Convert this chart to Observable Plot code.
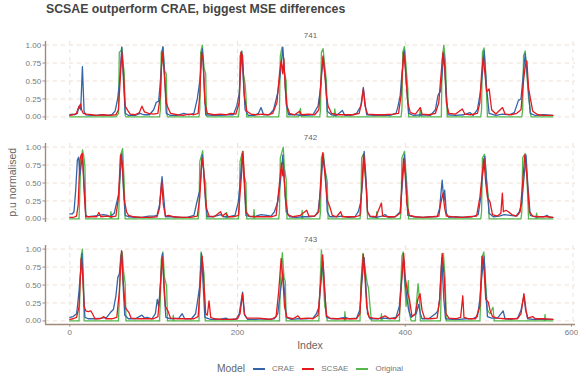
<!DOCTYPE html>
<html>
<head>
<meta charset="utf-8">
<script src="https://cdn.jsdelivr.net/npm/d3@7"></script>
<script src="https://cdn.jsdelivr.net/npm/@observablehq/plot@0.6"></script>
<style>
  html, body { margin: 0; padding: 0; background: #fff; }
  body { width: 578px; height: 384px; position: relative; overflow: hidden; font-family: "Liberation Sans", Arial, sans-serif; }
  .abs { position: absolute; line-height: 1; white-space: nowrap; }
  #title { left: 46px; top: 2.6px; font-size: 12.3px; font-weight: bold; color: #444; }
  #xlab { left: 210px; width: 200px; text-align: center; top: 340.4px; font-size: 10.5px; color: #666; }
  #ylab { left: -88px; width: 200px; text-align: center; top: 176.75px; height: 10.5px; font-size: 10.5px; color: #666; transform: rotate(-90deg); }
  #legend { left: 217px; top: 362px; height: 14px; display: flex; align-items: center; }
  #legend .ttl { font-size: 10.3px; color: #666666; margin-right: 8px; }
  #legend .sw { width: 12px; height: 1.6px; margin-right: 7px; }
  #legend .lab { font-size: 8px; color: #777; margin-right: 8px; }
  #chart { position: absolute; left: 0; top: 0; }
</style>
</head>
<body>
<div id="chart"></div>
<div id="title" class="abs">SCSAE outperform CRAE, biggest MSE differences</div>
<div id="xlab" class="abs">Index</div>
<div id="ylab" class="abs">p.u normalised</div>
<div id="legend" class="abs"></div>
<script>
const facets = ["741", "742", "743"];
const models = ["CRAE", "SCSAE", "Original"];
const colors = ["#3465a8", "#e41a1c", "#55b84f"];
const yTicks = [0, 0.25, 0.5, 0.75, 1];
const xTicks = [0, 200, 400, 600];

// ---- 741 ----
const f741_CRAE = [[0,0.03],[3,0.04],[6,0.03],[9,0.05],[11,0.15],[13,0.1],[15,0.70],[17,0.08],[19,0.03],[25,0.02],[32,0.02],[38,0.03],[45,0.02],[50,0.03],[54,0.08],[57,0.25],[59,0.45],[62,0.97],[64,0.5],[66,0.05],[70,0.02],[78,0.02],[84,0.05],[88,0.03],[95,0.03],[100,0.1],[103,0.2],[106,0.22],[108,0.5],[111,0.98],[113,0.6],[115,0.05],[120,0.02],[128,0.02],[136,0.05],[142,0.03],[148,0.05],[152,0.25],[155,0.5],[158,0.95],[160,0.5],[162,0.03],[170,0.02],[180,0.02],[188,0.03],[195,0.03],[199,0.15],[202,0.32],[205,0.91],[207,0.5],[209,0.1],[213,0.02],[220,0.02],[225,0.05],[228,0.13],[231,0.03],[238,0.03],[243,0.1],[248,0.34],[251,0.6],[254,0.97],[256,0.6],[258,0.18],[261,0.03],[270,0.03],[275,0.02],[282,0.02],[290,0.03],[296,0.15],[299,0.4],[302,0.83],[305,0.5],[307,0.08],[312,0.03],[318,0.02],[325,0.09],[328,0.02],[335,0.02],[342,0.05],[347,0.15],[350,0.41],[352,0.2],[354,0.03],[362,0.02],[372,0.02],[382,0.02],[389,0.05],[391,0.13],[394,0.3],[396,0.6],[399,0.92],[401,0.5],[404,0.05],[410,0.02],[420,0.03],[430,0.02],[436,0.1],[439,0.3],[442,0.36],[444,0.6],[446,0.88],[449,0.3],[451,0.03],[460,0.02],[470,0.03],[477,0.06],[481,0.02],[486,0.1],[489,0.3],[492,0.6],[494,0.92],[497,0.4],[500,0.05],[508,0.02],[516,0.04],[524,0.03],[530,0.06],[535,0.23],[538,0.25],[540,0.5],[543,0.88],[546,0.5],[549,0.05],[555,0.02],[565,0.03],[576,0.02]];
const f741_SCSAE = [[0,0.02],[4,0.03],[8,0.05],[10,0.12],[12.8,0.18],[14,0.1],[16,0.05],[20,0.04],[26,0.03],[32,0.02],[40,0.03],[48,0.02],[55,0.03],[58,0.1],[60,0.5],[62,0.9],[64,0.6],[66,0.15],[69,0.09],[72,0.04],[78,0.03],[83,0.06],[86,0.15],[89,0.07],[94,0.05],[100,0.04],[105,0.05],[108,0.3],[110,0.9],[112,0.7],[115,0.2],[117,0.13],[120,0.05],[128,0.03],[135,0.02],[142,0.04],[148,0.03],[153,0.05],[155,0.3],[157,0.9],[159,0.8],[161,0.2],[164,0.05],[172,0.03],[180,0.04],[186,0.03],[192,0.05],[198,0.04],[202,0.2],[204,0.9],[206,0.85],[208,0.3],[211,0.08],[216,0.04],[222,0.03],[230,0.04],[236,0.03],[242,0.05],[247,0.2],[250,0.6],[252,0.78],[254,0.6],[255,0.82],[257,0.4],[259,0.15],[262,0.05],[268,0.03],[274,0.08],[276,0.03],[285,0.04],[292,0.03],[297,0.1],[300,0.6],[302,0.85],[304,0.6],[306,0.3],[308,0.15],[312,0.05],[320,0.03],[330,0.03],[338,0.03],[345,0.05],[348,0.2],[350,0.39],[352,0.15],[355,0.04],[365,0.03],[375,0.03],[385,0.04],[392,0.05],[395,0.3],[398,0.9],[400,0.7],[403,0.2],[406,0.06],[412,0.04],[418,0.13],[420,0.04],[428,0.03],[436,0.05],[440,0.2],[442,0.5],[445,0.9],[447,0.7],[449,0.2],[452,0.05],[460,0.04],[468,0.11],[471,0.04],[478,0.03],[486,0.05],[489,0.2],[491,0.6],[493,0.83],[495,0.6],[497,0.35],[500,0.39],[503,0.1],[508,0.04],[516,0.13],[519,0.04],[526,0.03],[533,0.05],[538,0.1],[541,0.5],[543,0.7],[545,0.78],[547,0.4],[549,0.27],[552,0.08],[558,0.03],[566,0.02],[576,0.02]];
const f741_Original = [[0,0],[55,0],[58,0.05],[59,0.9],[61,0.92],[62,0.97],[63,0.85],[64,0.7],[65,0.6],[66,0.02],[67,0],[107,0],[108,0.1],[109,0.9],[111,0.97],[113,0.64],[115,0.6],[116,0.02],[117,0],[154,0],[155,0.1],[156,0.9],[158,1.0],[160,0.69],[162,0.6],[163,0.02],[164,0],[201,0],[202,0.1],[203,0.85],[205,0.92],[207,0.6],[209,0.46],[210,0.3],[211,0],[249,0],[250,0.1],[251,0.85],[253,0.97],[255,0.8],[256,0.62],[258,0.5],[259,0],[273,0],[275,0.12],[276,0],[298,0],[299,0.1],[300,0.9],[302,0.95],[304,0.71],[306,0.5],[307,0],[315,0],[316,0.11],[317,0],[395,0],[396,0.1],[397,0.9],[399,0.98],[401,0.7],[403,0.4],[404,0],[417,0],[418,0.13],[419,0],[443,0],[444,0.8],[446,1.0],[448,0.75],[450,0],[490,0],[491,0.1],[492,0.9],[494,0.96],[496,0.6],[497,0.3],[498,0],[539,0],[540,0.1],[541,0.85],[543,0.92],[545,0.6],[547,0.27],[549,0.11],[550,0],[576,0]];

// ---- 742 ----
const f742_CRAE = [[0,0.07],[3,0.07],[5,0.1],[7,0.4],[9,0.82],[10.5,0.86],[12,0.61],[13.5,0.75],[15,0.89],[17,0.5],[19,0.05],[22,0.03],[28,0.04],[35,0.05],[40,0.06],[45,0.05],[48,0.03],[53,0.08],[55.7,0.22],[58,0.33],[60,0.6],[62,0.91],[64,0.4],[66,0.05],[70,0.03],[78,0.02],[86,0.02],[94,0.04],[100,0.04],[104,0.05],[107,0.2],[110,0.59],[112,0.3],[114,0.03],[120,0.03],[130,0.02],[140,0.02],[148,0.05],[152,0.26],[155,0.4],[158,0.89],[160,0.6],[162,0.2],[164,0.03],[170,0.03],[177,0.05],[180,0.06],[183,0.03],[190,0.03],[197,0.05],[201,0.24],[203,0.5],[205.7,0.91],[208,0.5],[210,0.05],[216,0.03],[222,0.04],[228,0.06],[235,0.05],[240,0.04],[244,0.1],[248,0.24],[251,0.5],[254,0.89],[256,0.5],[258,0.1],[262,0.03],[270,0.02],[278,0.03],[285,0.03],[292,0.04],[296,0.1],[299,0.4],[302,0.89],[305,0.6],[307,0.1],[310,0.03],[318,0.03],[325,0.04],[332,0.02],[340,0.03],[344,0.1],[347,0.24],[349,0.5],[351,0.94],[353,0.6],[355,0.1],[358,0.03],[365,0.02],[372,0.04],[376,0.06],[380,0.02],[388,0.03],[394,0.1],[396,0.4],[399,0.89],[401,0.5],[403,0.05],[410,0.03],[420,0.02],[430,0.03],[438,0.03],[441,0.15],[444,0.54],[446,0.25],[447,0.4],[449,0.08],[452,0.02],[460,0.03],[470,0.02],[480,0.03],[487,0.06],[490,0.3],[492,0.6],[495,0.87],[497,0.5],[500,0.08],[505,0.03],[512,0.04],[518,0.06],[525,0.05],[532,0.04],[536,0.1],[539,0.22],[541,0.5],[544,0.89],[546,0.5],[549,0.05],[555,0.03],[565,0.03],[569,0.05],[572,0.02],[576,0.02]];
const f742_SCSAE = [[0,0.02],[4,0.02],[8,0.04],[10,0.2],[12,0.82],[13.5,0.89],[15,0.91],[17,0.4],[19,0.03],[25,0.03],[32,0.03],[34.6,0.09],[37,0.03],[44,0.04],[50,0.03],[55,0.04],[58,0.3],[60.5,0.89],[62.5,0.78],[65,0.26],[67.6,0.1],[70,0.05],[76,0.03],[86,0.02],[96,0.02],[104,0.03],[107,0.15],[109.5,0.52],[111.5,0.2],[114,0.04],[118,0.05],[124,0.03],[134,0.02],[144,0.02],[152,0.04],[155,0.3],[157.5,0.85],[159.5,0.7],[161,0.4],[163,0.15],[166,0.04],[172,0.03],[179.8,0.1],[182,0.04],[186,0.08],[189,0.03],[195,0.03],[201,0.05],[204,0.5],[206.5,0.94],[208,0.6],[210,0.1],[214,0.04],[222,0.03],[232,0.03],[240,0.03],[246,0.05],[250,0.5],[252.5,0.78],[254,0.6],[255,0.68],[257,0.3],[260,0.06],[266,0.03],[275,0.05],[282.5,0.12],[285,0.04],[292,0.04],[297,0.1],[299,0.5],[301.5,0.92],[303.5,0.7],[307,0.26],[310,0.17],[313,0.05],[318,0.03],[323,0.1],[325,0.03],[333,0.03],[341,0.03],[346,0.05],[348,0.4],[350.3,0.9],[352.5,0.6],[355,0.1],[358,0.04],[365,0.03],[371.6,0.22],[373,0.04],[380,0.03],[388,0.03],[394,0.08],[396,0.5],[398,0.84],[400,0.6],[402,0.2],[405,0.05],[412,0.03],[422,0.02],[432,0.03],[440,0.04],[442,0.2],[445,0.36],[447,0.15],[449,0.04],[456,0.03],[466,0.02],[476,0.03],[485,0.04],[489,0.3],[493.7,0.84],[496,0.5],[498,0.3],[501,0.24],[504,0.06],[510,0.04],[514,0.08],[515.8,0.36],[517,0.1],[520,0.12],[523,0.1],[527,0.06],[533,0.04],[537,0.1],[540,0.5],[542.5,0.89],[545,0.6],[548,0.1],[552,0.04],[560,0.03],[570,0.03],[576,0.02]];
const f742_Original = [[0,0],[11,0],[12,0.4],[13,0.8],[15.2,0.96],[16.7,0.87],[18,0.73],[19,0],[48,0],[49,0.1],[50,0],[58,0],[59,0.3],[60.5,0.89],[63,0.98],[65,0.45],[66,0],[153,0],[154,0.1],[155,0.8],[158.5,0.95],[160,0.6],[162,0.5],[163,0],[186.5,0],[187,0.09],[187.5,0],[201,0],[202,0.1],[203,0.8],[206,0.94],[208,0.6],[210,0.5],[211,0],[219,0],[219.6,0.13],[220.5,0],[249,0],[250,0.1],[251,0.85],[254.5,1.0],[256,0.7],[258,0.55],[259,0],[276.5,0],[277,0.12],[278,0],[298,0],[299,0.1],[300,0.85],[302.4,0.92],[304,0.7],[307,0.52],[308,0],[346,0],[347,0.1],[348,0.85],[350,0.9],[352,0.63],[354,0.4],[355,0],[365.5,0],[366,0.1],[367,0],[394,0],[395,0.1],[396,0.85],[399,0.94],[401,0.61],[403,0.3],[404,0],[490,0],[491,0.1],[492,0.85],[494.5,0.9],[497,0.55],[499,0.3],[500,0],[538,0],[539,0.1],[540,0.85],[543,0.91],[545,0.6],[547,0],[556,0],[556.6,0.08],[557.5,0],[576,0]];

// ---- 743 ----
const f743_CRAE = [[0,0.05],[4,0.06],[8,0.1],[9,0.19],[11,0.42],[13,0.7],[14.5,0.94],[16,0.5],[18,0.05],[22,0.03],[30,0.03],[38,0.04],[44,0.05],[48.6,0.12],[52,0.16],[55,0.35],[57.3,0.61],[59,0.65],[61.7,0.96],[63.5,0.5],[65.5,0.08],[70,0.03],[78,0.03],[86,0.08],[89,0.04],[92,0.05],[98,0.03],[102,0.1],[104.3,0.3],[106,0.2],[108,0.5],[110.5,0.94],[112.5,0.4],[114.5,0.05],[120,0.03],[130,0.04],[134,0.1],[137,0.03],[145,0.03],[150,0.1],[153,0.33],[155,0.5],[157,0.94],[159,0.5],[161,0.05],[168,0.02],[178,0.02],[186,0.04],[190,0.02],[198,0.02],[202,0.1],[206,0.4],[208.5,0.08],[212,0.02],[222,0.02],[229,0.03],[235,0.02],[244,0.03],[248,0.1],[251,0.4],[254,0.66],[256,0.4],[258,0.05],[264,0.02],[272,0.03],[282,0.03],[290,0.04],[294,0.1],[297,0.19],[299,0.5],[302,0.82],[304,0.4],[306,0.05],[312,0.03],[320,0.03],[328,0.05],[334,0.03],[342,0.04],[346,0.16],[348,0.5],[351,0.88],[353,0.5],[355,0.1],[358,0.03],[366,0.03],[374,0.04],[382,0.03],[389,0.05],[393,0.21],[395,0.5],[398,0.88],[400,0.5],[402.5,0.28],[404,0.15],[407,0.05],[413,0.1],[416,0.23],[418,0.1],[420,0.03],[428,0.03],[436,0.1],[439,0.14],[441,0.3],[443.5,0.88],[446,0.3],[448,0.03],[456,0.02],[465,0.02],[472,0.03],[480,0.03],[486,0.06],[489,0.3],[491,0.6],[494,0.9],[496,0.4],[498,0.06],[503,0.04],[510,0.04],[516.7,0.14],[519,0.03],[526,0.02],[534,0.04],[538,0.15],[541.5,0.35],[543.5,0.15],[546,0.03],[552,0.02],[562,0.02],[576,0.02]];
const f743_SCSAE = [[0,0.02],[4,0.03],[8,0.05],[11,0.2],[13.5,0.87],[15.5,0.6],[17,0.2],[19,0.14],[22,0.13],[25,0.14],[27,0.1],[30,0.03],[36,0.03],[40.6,0.06],[43,0.03],[50,0.03],[56,0.05],[59,0.4],[61.7,0.98],[64,0.5],[66,0.2],[67.6,0.16],[70.4,0.12],[73,0.04],[80,0.03],[90,0.03],[100,0.03],[105,0.06],[107,0.3],[110,0.89],[112,0.6],[114,0.2],[117,0.14],[120,0.04],[128,0.03],[138,0.03],[148,0.03],[153,0.06],[155,0.4],[157.8,0.9],[160,0.5],[162,0.1],[164,0.08],[166,0.28],[168,0.05],[172,0.03],[182,0.02],[192,0.02],[200,0.03],[203,0.1],[206,0.38],[208,0.1],[211,0.04],[218,0.04],[225,0.04],[232,0.03],[240,0.02],[246,0.06],[249,0.4],[252,0.87],[254,0.6],[256,0.2],[259,0.05],[266,0.03],[272,0.07],[275,0.03],[283,0.04],[290,0.03],[296,0.08],[299,0.5],[301.5,0.92],[303.5,0.5],[306,0.07],[310,0.04],[318,0.03],[326,0.03],[334,0.03],[342,0.03],[346,0.1],[348,0.6],[350,0.93],[352,0.6],[354,0.2],[357,0.05],[362,0.04],[368,0.03],[376,0.07],[380,0.04],[388,0.03],[393,0.1],[396,0.6],[398,0.94],[400,0.6],[403,0.38],[405,0.3],[408,0.06],[412,0.1],[415,0.3],[417.6,0.38],[420,0.15],[423,0.04],[430,0.03],[438,0.04],[441,0.3],[444,0.94],[446.5,0.6],[448.5,0.1],[452,0.04],[460,0.03],[466,0.05],[468.6,0.35],[470,0.05],[476,0.03],[484,0.03],[489,0.2],[491.5,0.9],[494,0.7],[496,0.3],[499,0.26],[501,0.15],[504,0.06],[510,0.04],[518,0.03],[526,0.03],[534,0.03],[538,0.1],[541.5,0.38],[544,0.15],[546,0.04],[552,0.06],[555,0.03],[564,0.03],[576,0.02]];
const f743_Original = [[0,0],[11,0],[12,0.4],[13.5,0.9],[15,1.0],[16.5,0.5],[17,0],[58,0],[59,0.3],[60.5,0.9],[62.5,0.96],[64,0.7],[66,0.52],[67,0],[107,0],[108,0.3],[109,0.85],[111,0.96],[113,0.6],[115.4,0.49],[116.5,0],[123,0],[123.4,0.08],[124,0],[154,0],[155,0.5],[156.5,0.96],[158.5,0.8],[160,0.66],[161.5,0],[250,0],[251,0.5],[253.4,0.95],[255.5,0.6],[257,0.55],[258,0],[297,0],[298,0.4],[300,0.99],[302,0.6],[304,0.2],[306,0.12],[307,0],[327.5,0],[328,0.13],[329,0],[346,0],[347,0.5],[349.5,0.94],[352,0.73],[355,0.5],[356,0.47],[358,0.2],[359.6,0],[371,0],[371.6,0.1],[372.5,0],[393,0],[394,0.3],[396,0.9],[397.5,0.96],[399,0.6],[401,0.2],[403.6,0.56],[405,0.1],[407,0],[412,0],[413,0.2],[415.3,0.52],[417,0.3],[418,0],[442,0],[443,0.5],[445.5,0.94],[447.5,0.6],[449,0],[489,0],[490,0.3],[492,0.9],[493.7,0.96],[495.5,0.6],[498,0.15],[501,0.1],[504.6,0.19],[506,0],[566,0],[566.7,0.09],[567.5,0],[576,0]];

const series = {
  "741": {CRAE: f741_CRAE, SCSAE: f741_SCSAE, Original: f741_Original},
  "742": {CRAE: f742_CRAE, SCSAE: f742_SCSAE, Original: f742_Original},
  "743": {CRAE: f743_CRAE, SCSAE: f743_SCSAE, Original: f743_Original}
};

function rowsFor(model) {
  const out = [];
  for (const fac of facets) {
    for (const [i, v] of series[fac][model]) out.push({fac, model, i, v});
  }
  return out;
}

const yDomain = [-0.05, 1.05];
const xDomain = [-29, 603];
const axisColor = "#a08c7c";
const gridColor = "#f0dfd2";

const chart = Plot.plot({
  width: 578,
  height: 360,
  marginTop: 40.4,
  marginBottom: 35.7,
  marginLeft: 45,
  marginRight: 3,
  style: {fontFamily: "Liberation Sans, Arial, sans-serif", fontSize: "8px", background: "transparent", color: "#777"},
  x: {domain: xDomain},
  y: {domain: yDomain},
  fy: {domain: facets, paddingInner: 0.23, paddingOuter: 0, axis: null},
  color: {domain: models, range: colors},
  marks: [
    Plot.gridY(yTicks, {stroke: gridColor, strokeOpacity: 1, strokeDasharray: "4,4", strokeWidth: 1}),
    Plot.gridX(xTicks, {stroke: gridColor, strokeOpacity: 1, strokeDasharray: "4,4", strokeWidth: 1}),
    Plot.line(rowsFor("Original"), {x: "i", y: "v", fy: "fac", stroke: "model", strokeWidth: 1.3}),
    Plot.line(rowsFor("CRAE"), {x: "i", y: "v", fy: "fac", stroke: "model", strokeWidth: 1.3}),
    Plot.line(rowsFor("SCSAE"), {x: "i", y: "v", fy: "fac", stroke: "model", strokeWidth: 1.3}),
    Plot.ruleX([xDomain[0]], {stroke: axisColor, strokeWidth: 1.4}),
    Plot.ruleY([yDomain[0]], {fy: () => facets[facets.length - 1], stroke: axisColor, strokeWidth: 1.6}),
    Plot.axisY({ticks: yTicks, tickFormat: d3.format(".2f"), tickSize: 2.5, tickPadding: 1.8, stroke: axisColor, fill: "#777", fontSize: 8, label: null}),
    Plot.axisX({ticks: xTicks.slice(0, -1), tickSize: 2.7, tickPadding: 2, stroke: axisColor, fill: "#777", fontSize: 8, label: null}),
    Plot.axisX({ticks: xTicks.slice(-1), tickSize: 2.7, tickPadding: 2, stroke: axisColor, fill: "#777", fontSize: 8, label: null, dx: -1.5}),
    Plot.text(facets, {fy: d => d, text: d => d, frameAnchor: "top", dy: -9.5, fontSize: 8, fill: "#666"})
  ]
});
document.getElementById("chart").appendChild(chart);

// legend
const leg = document.getElementById("legend");
const t = document.createElement("span");
t.className = "ttl"; t.textContent = "Model"; t.style.color = "#666666";
leg.appendChild(t);
models.forEach((m, k) => {
  const sw = document.createElement("span");
  sw.className = "sw"; sw.style.background = colors[k];
  leg.appendChild(sw);
  const lb = document.createElement("span");
  lb.className = "lab"; lb.textContent = m;
  leg.appendChild(lb);
});
</script>
</body>
</html>
